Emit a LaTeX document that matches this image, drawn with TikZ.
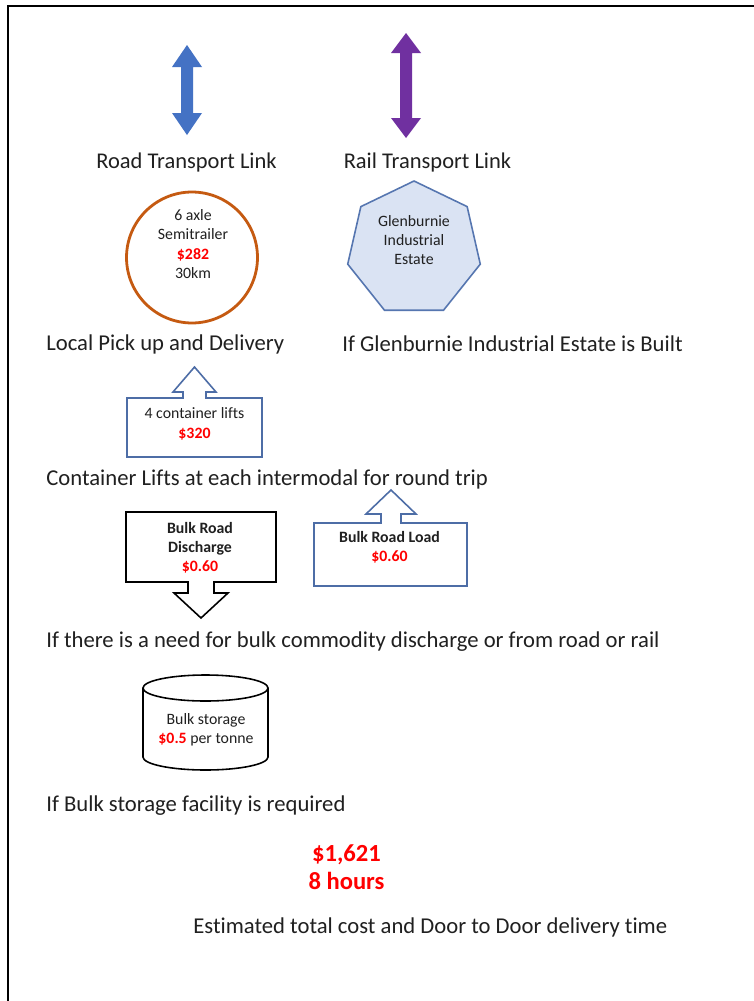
\documentclass[tikz,border=0pt]{standalone}
\usepackage{fontspec}
\setmainfont{Carlito}[Ligatures=NoCommon]
\usepackage{xcolor}
\usepackage{tikz}
\usetikzlibrary{calc, shapes.geometric, positioning}

\definecolor{roadblue}{HTML}{4472C4}
\definecolor{railpurple}{HTML}{7030A0}
\definecolor{truckorange}{HTML}{C55A11}
\definecolor{estatefill}{HTML}{DAE3F3}
\definecolor{estateline}{HTML}{5676B0}
\definecolor{liftblue}{HTML}{4D6DA6}
\definecolor{costred}{HTML}{FF0000}
\definecolor{inktext}{HTML}{202020}

\newcommand{\costtext}[1]{\textcolor{costred}{\bfseries #1}}

\begin{document}
\begin{tikzpicture}[x=0.02cm, y=-0.02cm,
    caption/.style={anchor=west, inner sep=0pt, text=inktext,
        font=\fontsize{12.9}{15}\selectfont},
    linklabel/.style={inner sep=0pt, text=inktext,
        font=\fontsize{12.8}{15}\selectfont},
    small/.style={align=center, inner sep=0pt, text=inktext,
        font=\fontsize{9}{11}\selectfont},
    callout/.style={line width=0.9pt, fill=white}]

    % =================================================================
    % 1. PAGE AND FRAME
    % =================================================================
    \useasboundingbox (0,0) rectangle (754,1001);
    \fill[white] (0,0) rectangle (754,1001);
    \coordinate (FrameTop) at (754,6);
    \coordinate (FrameCorner) at (8,6);
    \coordinate (FrameBottom) at (8,1001);
    \draw[line width=1.1pt] (FrameBottom) -- (FrameCorner) -- (FrameTop);

    % =================================================================
    % 2. TRANSPORT LINK ARROWS
    % =================================================================
    % Road link (blue double arrow)
    \fill[roadblue] (187,45) -- (202,67) -- (193,67) -- (193,113) -- (202,113)
        -- (187,135) -- (172,113) -- (181,113) -- (181,67) -- (172,67) -- cycle;
    % Rail link (purple double arrow)
    \fill[railpurple] (406,33) -- (421,53) -- (412,53) -- (412,118) -- (421,118)
        -- (406,138) -- (391,118) -- (400,118) -- (400,53) -- (391,53) -- cycle;

    \node[linklabel] (roadlink) at (186.5,163) {Road Transport Link};
    \node[linklabel] (raillink) at (427.5,163) {Rail Transport Link};

    % =================================================================
    % 3. TRUCK CIRCLE AND INDUSTRIAL ESTATE
    % =================================================================
    \node[circle, draw=truckorange, line width=1.6pt, minimum size=2.62cm,
        inner sep=0pt] (truck) at (192,257.5) {};
    \node[small] (trucktext) at (193,244)
        {6 axle\\Semitrailer\\\costtext{\$282}\\30km};

    \node[regular polygon, regular polygon sides=7, draw=estateline,
        fill=estatefill, line width=0.9pt, minimum size=2.72cm,
        inner sep=0pt] (estate) at (414,249) {};
    \node[small, font=\fontsize{9}{10.8}\selectfont] (estatetext) at (414,240)
        {Glenburnie\\Industrial\\Estate};

    \node[caption] (pickup) at (46,344) {Local Pick up and Delivery};
    \node[caption] (ifbuilt) at (342,344) {If Glenburnie Industrial Estate is Built};

    % =================================================================
    % 4. CONTAINER LIFTS
    % =================================================================
    \draw[callout, draw=liftblue] (127,398) -- (183,398) -- (183,392) -- (173,392)
        -- (194.5,367) -- (216,392) -- (206,392) -- (206,398) -- (262,398)
        -- (262,457) -- (127,457) -- cycle;
    \node[small] (liftstext) at (194.5,424) {4 container lifts\\\costtext{\$320}};

    \node[caption] (lifts) at (46,479) {Container Lifts at each intermodal for round trip};

    % =================================================================
    % 5. BULK ROAD DISCHARGE AND LOAD
    % =================================================================
    \draw[callout, draw=black] (126,512) -- (276,512) -- (276,582) -- (214,582)
        -- (214,593) -- (228,593) -- (201,618) -- (174,593) -- (188,593)
        -- (188,582) -- (126,582) -- cycle;
    \node[small, font=\bfseries\fontsize{9}{10.8}\selectfont] (dischargetext)
        at (200,548) {Bulk Road\\Discharge\\\costtext{\$0.60}};

    \draw[callout, draw=liftblue] (314,523) -- (381,523) -- (381,514) -- (366,514)
        -- (391,490) -- (416,514) -- (401,514) -- (401,523) -- (467,523)
        -- (467,586) -- (314,586) -- cycle;
    \node[small, font=\bfseries\fontsize{9}{11}\selectfont] (loadtext)
        at (389.5,547.5) {Bulk Road Load\\\costtext{\$0.60}};

    \node[caption] (bulkneed) at (46,642)
        {If there is a need for bulk commodity discharge or from road or rail};

    % =================================================================
    % 6. BULK STORAGE CYLINDER
    % =================================================================
    \draw[line width=0.9pt, fill=white] (143,688) -- (143,757)
        arc[start angle=180, end angle=0, x radius=62.5, y radius=13]
        -- (268,688);
    \draw[line width=0.9pt] (205.5,688) ellipse[x radius=62.5, y radius=13];
    \node[small] (storagetext) at (206,730)
        {Bulk storage\\\costtext{\$0.5} per tonne};

    \node[caption] (storage) at (46,806) {If Bulk storage facility is required};

    % =================================================================
    % 7. TOTALS
    % =================================================================
    \node[align=center, inner sep=0pt, text=costred,
        font=\bfseries\fontsize{14}{16}\selectfont] (total) at (346.5,867)
        {\$1,621\\8 hours};
    \node[caption] (estimate) at (193,927)
        {Estimated total cost and Door to Door delivery time};

\end{tikzpicture}
\end{document}
